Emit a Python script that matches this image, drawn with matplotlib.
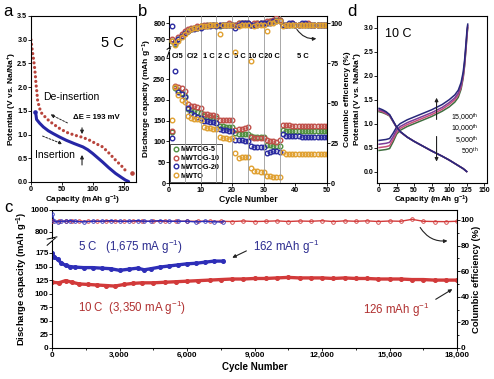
import matplotlib
matplotlib.use("Agg")
import matplotlib.pyplot as plt

plt.rcParams['font.family'] = ['Liberation Sans', 'DejaVu Sans']
plt.rcParams['font.weight'] = 'bold'
plt.rcParams['mathtext.default'] = 'regular'
plt.rcParams['axes.linewidth'] = 0.8

# ---------------- data ----------------
# panel a (5 C profile)
a_cap_de = [0, 2, 4, 5.5, 7, 8, 9.5, 10.7, 13.4, 16, 20, 30, 45, 57, 70, 84, 95, 105, 116, 127, 137, 148, 155]
a_v_de = [3.0, 2.78, 2.6, 2.45, 2.26, 2.08, 1.9, 1.72, 1.58, 1.47, 1.41, 1.28, 1.14, 1.05, 0.99, 0.94, 0.88, 0.81, 0.74, 0.6, 0.46, 0.32, 0.21]
a_cap_de_end = [163]
a_v_de_end = [0.18]
a_cap_in = [8, 9, 14, 20, 28, 36, 46, 57, 70, 84, 92, 100, 108, 116, 126, 137, 146, 153, 158]
a_v_in = [1.42, 1.32, 1.24, 1.16, 1.08, 1.02, 0.95, 0.88, 0.81, 0.74, 0.68, 0.6, 0.51, 0.42, 0.3, 0.18, 0.1, 0.04, 0.01]
a_cap_in_start = [6.4]
a_v_in_start = [1.47]

# panel b (rate)
cycles_b = list(range(1, 51))
cap_g5 = [122, 228, 224, 216, 210, 178, 175, 172, 170, 168, 160, 159, 158, 157, 157, 137, 136, 135, 135, 135,
          120, 119, 119, 118, 118, 112, 111, 110, 110, 110, 92, 91, 90, 90, 90, 127, 126, 126, 126, 125,
          125, 125, 125, 125, 124, 124, 124, 124, 124, 124]
cap_g10 = [125, 233, 232, 228, 222, 190, 186, 184, 182, 180, 166, 165, 164, 163, 162, 152, 152, 152, 151, 152,
           128, 130, 131, 132, 135, 110, 109, 108, 108, 109, 104, 101, 100, 99, 103, 140, 139, 139, 138, 138,
           138, 137, 137, 137, 137, 136, 136, 136, 136, 136]
cap_g20 = [108, 270, 219, 213, 206, 180, 168, 163, 159, 156, 150, 148, 147, 146, 145, 130, 128, 127, 126, 126,
           104, 103, 103, 102, 102, 88, 86, 86, 86, 87, 72, 75, 76, 76, 75, 118, 114, 113, 112, 112,
           112, 111, 111, 111, 111, 111, 111, 111, 110, 110]
cap_mwto = [151, 232, 212, 200, 195, 160, 157, 155, 153, 152, 135, 133, 132, 131, 131, 110, 108, 108, 107, 108,
            73, 60, 62, 63, 63, 36, 30, 28, 27, 27, 18, 16, 15, 15, 15, 75, 70, 70, 70, 70,
            70, 70, 70, 70, 69, 69, 69, 69, 69, 69]
ce_g5 = [89, 87, 90, 92, 94, 95, 96, 97, 97, 98, 98, 99, 99, 99, 99, 98, 99, 99, 99, 99,
         99, 100, 100, 100, 100, 99, 99, 100, 100, 100, 100, 101, 101, 102, 102, 99, 99, 99, 99, 99,
         99, 99, 99, 99, 99, 99, 99, 99, 99, 99]
ce_g10 = [90, 88, 91, 93, 95, 96, 97, 97, 98, 98, 99, 99, 99, 99, 99, 99, 99, 99, 100, 99,
          99, 100, 100, 100, 100, 99, 100, 100, 100, 100, 101, 101, 102, 103, 102, 99, 99, 99, 100, 99,
          99, 99, 99, 100, 99, 99, 99, 99, 99, 99]
ce_g20 = [98, 88, 90, 92, 94, 95, 96, 96, 97, 97, 98, 98, 98, 99, 98, 99, 99, 99, 99, 99,
          97, 99, 100, 100, 100, 99, 99, 99, 100, 100, 100, 100, 101, 101, 101, 99, 99, 100, 100, 99,
          99, 100, 100, 99, 99, 99, 99, 99, 99, 99]
ce_mwto = [89, 86, 89, 91, 93, 95, 96, 97, 97, 98, 98, 98, 99, 99, 99, 93, 99, 99, 99, 99,
           82, 98, 99, 99, 99, 76, 98, 99, 99, 99, 95, 100, 100, 101, 101, 98, 99, 99, 99, 99,
           99, 99, 99, 99, 99, 99, 99, 99, 99, 99]
rate_labels = ['C/5', 'C/2', '1 C', '2 C', '5 C', '10 C', '20 C', '5 C']
rate_centers = [2.7, 7.5, 12.5, 17.5, 22.5, 27.5, 32.5, 42.5]
rate_bounds = [5, 10, 15, 20, 25, 30, 35]

# panel c (long cycling)
c5_cycles = [0, 100, 250, 400, 600, 800, 1000, 1400, 1800, 2200, 2600, 3000, 3400, 3800, 4100, 4400,
             4800, 5200, 5600, 6000, 6400, 6800, 7200, 7600]
c5_cap = [175, 168, 163, 157, 152, 150, 149, 148, 148, 147, 146, 143, 145, 147, 144, 146,
          149, 151, 153, 155, 156, 158, 160, 160]
c5_ce = [105, 99, 98.5, 99, 99, 99.5, 99, 98.5, 99, 99, 99.5, 99, 99, 99.5, 99, 99,
         99.5, 99, 99, 99, 98.5, 99, 98.5, 98.5]
c10_cycles = [0, 300, 600, 900, 1200, 1600, 2000, 2400, 2800, 3200, 3600, 4000, 4500, 5000, 5500, 6000,
              6500, 7000, 7500, 8000, 8500, 9000, 9500, 10000, 10500, 11000, 11500, 12000, 12500, 13000,
              13500, 14000, 14500, 15000, 15500, 16000, 16500, 17000, 17500, 18000]
c10_cap = [121, 120, 124, 121, 118, 117, 116, 115, 114, 117, 119, 120, 120, 121, 122, 123,
           124, 125, 126, 127, 127, 128, 128, 129, 130, 129, 129, 129, 128, 129,
           128, 128, 127, 127, 127, 126, 126, 125, 125, 125]
c10_ce = [99, 99, 99, 99, 99, 99, 99, 99, 99, 99, 99, 99, 99, 99, 99, 99,
          99, 99, 99, 98.8, 99.2, 98.8, 99, 99.3, 98.8, 99.2, 99, 99.4, 98.8, 99.3,
          99, 99.3, 98.8, 99.2, 99, 100.5, 99, 98.8, 98.7, 99]

# panel d (10 C profiles)
d_cap_ch = [0, 5, 10, 15, 20, 25, 30, 40, 50, 60, 75, 90, 100, 108, 113, 117, 120, 122, 124, 125.5, 126.5]
d_v_ch_500 = [0.44, 0.45, 0.46, 0.48, 0.62, 0.78, 0.86, 0.94, 1.00, 1.06, 1.15, 1.26, 1.35, 1.45, 1.55, 1.72, 1.95, 2.2, 2.55, 2.85, 3.0]
d_v_ch_5000 = [0.50, 0.51, 0.52, 0.54, 0.67, 0.82, 0.90, 0.98, 1.04, 1.10, 1.19, 1.30, 1.40, 1.50, 1.60, 1.76, 1.98, 2.23, 2.58, 2.88, 3.02]
d_v_ch_10000 = [0.57, 0.58, 0.59, 0.61, 0.73, 0.87, 0.94, 1.02, 1.08, 1.14, 1.23, 1.34, 1.44, 1.54, 1.64, 1.80, 2.02, 2.27, 2.62, 2.92, 3.05]
d_v_ch_15000 = [0.65, 0.66, 0.67, 0.69, 0.80, 0.93, 1.00, 1.08, 1.14, 1.20, 1.29, 1.40, 1.50, 1.60, 1.70, 1.86, 2.08, 2.33, 2.68, 2.97, 3.08]
d_cap_dis = [0, 5, 10, 15, 20, 25, 30, 40, 50, 60, 75, 90, 100, 110, 120, 125]
d_v_dis_500 = [1.25, 1.23, 1.2, 1.16, 1.04, 0.92, 0.83, 0.72, 0.63, 0.55, 0.43, 0.32, 0.24, 0.15, 0.06, 0.0]
d_v_dis_5000 = [1.27, 1.25, 1.21, 1.17, 1.05, 0.92, 0.83, 0.72, 0.63, 0.55, 0.43, 0.32, 0.24, 0.15, 0.06, 0.0]
d_v_dis_10000 = [1.29, 1.27, 1.23, 1.18, 1.05, 0.92, 0.83, 0.72, 0.63, 0.55, 0.43, 0.32, 0.24, 0.15, 0.06, 0.0]
d_v_dis_15000 = [1.32, 1.29, 1.25, 1.19, 1.06, 0.93, 0.84, 0.72, 0.63, 0.55, 0.43, 0.32, 0.24, 0.15, 0.06, 0.0]
d_labels = ['15,000$^{th}$', '10,000$^{th}$', '5,000$^{th}$', '500$^{th}$']

# ---------------- figure ----------------
W, H = 494, 379
fig = plt.figure(figsize=(W / 100, H / 100), dpi=100)


def axpx(l, t, r, b):
    return fig.add_axes([l / W, 1 - b / H, (r - l) / W, (b - t) / H])


def ftext(x, y, s, **kw):
    return fig.text(x / W, 1 - y / H, s, **kw)


def style(ax, size=5.2):
    ax.tick_params(which='both', direction='out', length=2.0, width=0.6, labelsize=size, pad=0.6)


def brk(ax, ypos):
    ax.plot([-0.012, 0.012], [ypos - 0.04, ypos + 0.04], transform=ax.transAxes, color='k', lw=0.7, clip_on=False)


RED_A, BLUE_A = '#b8443c', '#2626a6'
GREEN_B, RED_B, BLUE_B, ORANGE_B = '#4f8f3f', '#c0504a', '#2a2aa0', '#e0a030'
BLUE_C, RED_C = '#2e2eb8', '#d23a3a'
D_COLS = ['#27287a', '#7d3c98', '#c8507a', '#3f6e3f']

# ---- panel a ----
axa = axpx(31, 16, 136, 182)
axa.plot(a_cap_de, a_v_de, color=RED_A, lw=2.3, linestyle=(0, (0.01, 1.45)), dash_capstyle='round')
axa.plot(a_cap_de_end, a_v_de_end, 'o', color=RED_A, ms=2.3)
axa.plot(a_cap_in, a_v_in, color=BLUE_A, lw=2.2, solid_capstyle='round')
axa.plot(a_cap_in_start, a_v_in_start, 'o', color=BLUE_A, ms=2.3)
axa.set_xlim(0, 170)
axa.set_ylim(0, 3.5)
axa.set_xticks([0, 50, 100, 150])
axa.set_yticks([0, 0.5, 1.0, 1.5, 2.0, 2.5, 3.0, 3.5])
axa.set_yticklabels(['0.0', '0.5', '1.0', '1.5', '2.0', '2.5', '3.0', '3.5'])
style(axa)
axa.text(131, 2.93, '5 C', fontsize=10.5, weight='normal', ha='center', va='center')
axa.text(19, 1.79, 'De-insertion', fontsize=7.5, weight='normal', ha='left', va='center')
axa.text(68, 1.37, 'ΔE = 193 mV', fontsize=5.6, weight='bold', ha='left', va='center')
axa.text(6.5, 0.57, 'Insertion', fontsize=7.5, weight='normal', ha='left', va='center')
axa.annotate('', xy=(27.5, 1.45), xytext=(63, 1.22),
             arrowprops=dict(arrowstyle='-|>', lw=0.7, ls=(0, (2, 1.5)), color='#222', mutation_scale=5))
axa.annotate('', xy=(55, 0.78), xytext=(14.6, 0.99),
             arrowprops=dict(arrowstyle='-|>', lw=0.7, ls=(0, (2, 1.5)), color='#222', mutation_scale=5))
axa.annotate('', xy=(82.6, 0.95), xytext=(82.6, 1.2),
             arrowprops=dict(arrowstyle='-|>', lw=0.8, color='#222', mutation_scale=5))
axa.annotate('', xy=(82.6, 0.63), xytext=(82.6, 0.3),
             arrowprops=dict(arrowstyle='-|>', lw=0.8, color='#222', mutation_scale=5))
ftext(8, 12, 'a', fontsize=12, weight='normal', ha='center', va='center')
ftext(12, 99, 'Potential (V vs. Na/Na$^{+}$)', fontsize=6.0, rotation=90, ha='center', va='center')
ftext(83, 200, 'Capacity (mAh g$^{-1}$)', fontsize=5.9, ha='center', va='center')

# ---- panel b ----
axbl = axpx(169, 52, 327, 183)
axbu = axpx(169, 16, 327, 48)
axbr = axpx(169, 16, 327, 183)
axbr.set_facecolor('none')
series_b = [(cap_g5, ce_g5, GREEN_B, 'MWTOG-5'), (cap_g10, ce_g10, RED_B, 'MWTOG-10'),
            (cap_g20, ce_g20, BLUE_B, 'MWTOG-20'), (cap_mwto, ce_mwto, ORANGE_B, 'MWTO')]
for cap, ce, col, lab in series_b:
    axbl.plot(cycles_b, cap, 'o', ms=3.3, mfc='none', mec=col, mew=1.0, label=lab)
    axbr.plot(cycles_b, ce, 'o', ms=3.3, mfc='none', mec=col, mew=1.0)
for xb in rate_bounds:
    axbr.axvline(xb, color='#9a9a9a', lw=0.6, zorder=0)
for lab, xc in zip(rate_labels, rate_centers):
    axbl.text(xc, 303, lab, fontsize=5.4, ha='center', va='center')
for ax in (axbl, axbu, axbr):
    ax.set_xlim(0, 50)
axbl.set_ylim(0, 315)
axbu.set_ylim(644, 844)
axbr.set_ylim(0, 104.4)
axbl.set_yticks([0, 50, 100, 150, 200, 250, 300])
axbl.set_xticks([0, 10, 20, 30, 40, 50])
axbu.set_yticks([700, 800])
axbu.set_xticks([])
axbl.spines['top'].set_visible(False)
axbl.spines['right'].set_visible(False)
axbu.spines['bottom'].set_visible(False)
axbu.spines['right'].set_visible(False)
for s in ('left', 'top', 'bottom'):
    axbr.spines[s].set_visible(False)
axbr.set_xticks([])
axbr.yaxis.tick_right()
axbr.set_yticks([0, 25, 50, 75, 100])
style(axbl)
style(axbu)
style(axbr)
brk(axbl, 1.0)
brk(axbu, 0.0)
leg = axbl.legend(loc='lower left', fontsize=5.2, frameon=True, fancybox=False, edgecolor='k',
                  borderpad=0.3, handletextpad=0.2, labelspacing=0.25, handlelength=1.0,
                  borderaxespad=0.15)
leg.get_frame().set_linewidth(0.6)
axbr.annotate('', xy=(47.5, 90.5), xytext=(40, 97.5),
              arrowprops=dict(arrowstyle='-|>', lw=0.8, color='#222', mutation_scale=5,
                              connectionstyle='arc3,rad=0.35'))
ftext(143, 12, 'b', fontsize=12, weight='normal', ha='center', va='center')
ftext(147, 99, 'Discharge capacity (mAh g$^{-1}$)', fontsize=6.0, rotation=90, ha='center', va='center')
ftext(347, 99, 'Columbic efficiency (%)', fontsize=6.0, rotation=90, ha='center', va='center')
ftext(248, 200, 'Cycle Number', fontsize=6.2, ha='center', va='center')

# ---- panel d ----
axd = axpx(377, 16, 487, 183)
ch_sets = [d_v_ch_500, d_v_ch_5000, d_v_ch_10000, d_v_ch_15000]
dis_sets = [d_v_dis_500, d_v_dis_5000, d_v_dis_10000, d_v_dis_15000]
for v, col in zip(ch_sets, D_COLS[::-1]):
    axd.plot(d_cap_ch, v, color=col, lw=1.1)
for v, col in zip(dis_sets, D_COLS[::-1]):
    axd.plot(d_cap_dis, v, color=col, lw=1.1)
axd.set_xlim(-3, 154)
axd.set_ylim(-0.24, 3.25)
axd.set_xticks([0, 25, 50, 75, 100, 125, 150])
axd.set_yticks([0, 0.5, 1.0, 1.5, 2.0, 2.5, 3.0])
axd.set_yticklabels(['0.0', '0.5', '1.0', '1.5', '2.0', '2.5', '3.0'])
style(axd, 5.0)
axd.text(27, 2.87, '10 C', fontsize=9, weight='normal', ha='center', va='center')
axd.annotate('', xy=(82, 1.6), xytext=(82, 1.03),
             arrowprops=dict(arrowstyle='-|>', lw=0.8, color='#222', mutation_scale=5))
axd.annotate('', xy=(82, 0.15), xytext=(82, 0.79),
             arrowprops=dict(arrowstyle='-|>', lw=0.8, color='#222', mutation_scale=5))
for i, lab in enumerate(d_labels):
    axd.text(142, 1.12 - i * 0.235, lab, fontsize=5.0, weight='normal', ha='right', va='center')
ftext(352, 12, 'd', fontsize=12, weight='normal', ha='center', va='center')
ftext(358, 99, 'Potential (V vs. Na/Na$^{+}$)', fontsize=6.0, rotation=90, ha='center', va='center')
ftext(432, 200, 'Capacity (mAh g$^{-1}$)', fontsize=5.9, ha='center', va='center')

# ---- panel c ----
axcl = axpx(52, 241, 457, 348)
axcu = axpx(52, 210, 457, 238)
axcr = axpx(52, 210, 457, 348)
axcr.set_facecolor('none')
axcl.plot(c10_cycles, c10_cap, '-o', color=RED_C, lw=2.4, ms=2.6)
axcl.plot(c5_cycles, c5_cap, '-o', color=BLUE_C, lw=2.4, ms=2.6)
axcr.plot(c10_cycles, c10_ce, '-o', color=RED_C, lw=1.0, ms=2.6, mfc='none', mew=0.6)
axcr.plot(c5_cycles, c5_ce, '-o', color=BLUE_C, lw=1.0, ms=2.6, mfc='none', mew=0.6)
for ax in (axcl, axcu, axcr):
    ax.set_xlim(0, 18000)
axcl.set_ylim(0, 197)
axcu.set_ylim(745, 1000)
axcr.set_ylim(0, 107.8)
axcl.set_yticks([0, 25, 50, 75, 100, 125, 150, 175])
axcl.set_xticks([0, 3000, 6000, 9000, 12000, 15000, 18000])
axcl.set_xticklabels(['0', '3,000', '6,000', '9,000', '12,000', '15,000', '18,000'])
axcl.set_xticks([1500, 4500, 7500, 10500, 13500, 16500], minor=True)
axcu.set_yticks([800, 1000])
axcu.set_xticks([])
axcl.spines['top'].set_visible(False)
axcl.spines['right'].set_visible(False)
axcu.spines['bottom'].set_visible(False)
axcu.spines['right'].set_visible(False)
for s in ('left', 'top', 'bottom'):
    axcr.spines[s].set_visible(False)
axcr.set_xticks([])
axcr.yaxis.tick_right()
axcr.set_yticks([0, 20, 40, 60, 80, 100])
axcr.set_yticks([10, 30, 50, 70, 90], minor=True)
style(axcl, 5.8)
style(axcu, 5.8)
style(axcr, 5.8)
axcl.tick_params(which='minor', length=1.3)
axcr.tick_params(which='minor', length=1.3)
brk(axcl, 1.0)
brk(axcu, 0.0)
axcl.text(1150, 187, '5 C   (1,675 mA g$^{-1}$)', fontsize=8.3, weight='normal', color='#2b2b8f',
          ha='left', va='center')
axcl.text(1150, 73, '10 C  (3,350 mA g$^{-1}$)', fontsize=8.3, weight='normal', color='#b03030',
          ha='left', va='center')
axcl.text(8950, 187, '162 mAh g$^{-1}$', fontsize=8.3, weight='normal', color='#2b2b8f',
          ha='left', va='center')
axcl.text(13800, 70, '126 mAh g$^{-1}$', fontsize=8.3, weight='normal', color='#b03030',
          ha='left', va='center')
axcl.annotate('', xy=(7900, 164), xytext=(8750, 181),
              arrowprops=dict(arrowstyle='-|>', lw=0.8, color='#222', mutation_scale=5))
axcl.annotate('', xy=(17900, 111), xytext=(16950, 87),
              arrowprops=dict(arrowstyle='-|>', lw=0.8, color='#222', mutation_scale=5))
axcr.annotate('', xy=(17700, 84), xytext=(16300, 96),
              arrowprops=dict(arrowstyle='-|>', lw=0.8, color='#222', mutation_scale=5,
                              connectionstyle='arc3,rad=0.35'))
ftext(8, 207, 'c', fontsize=12, weight='normal', ha='center', va='center')
ftext(22, 279, 'Discharge capacity (mAh g$^{-1}$)', fontsize=6.8, rotation=90, ha='center', va='center')
ftext(476, 279, 'Columbic efficiency (%)', fontsize=6.8, rotation=90, ha='center', va='center')
ftext(255, 367, 'Cycle Number', fontsize=7.0, ha='center', va='center')

fig.savefig('out.png', dpi=100)
